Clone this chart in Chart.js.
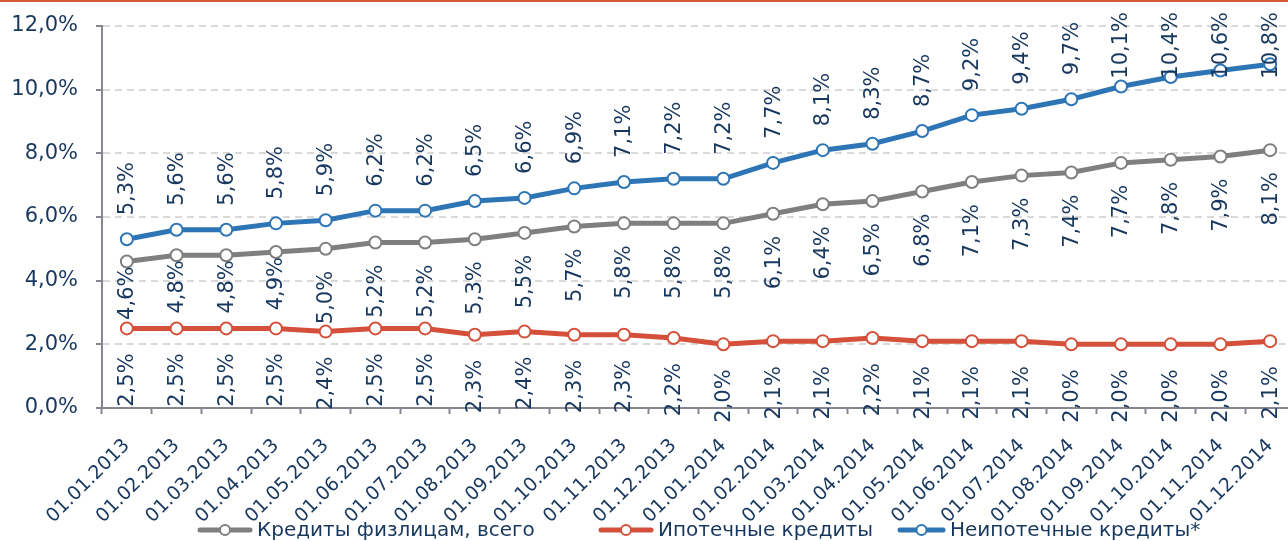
<!DOCTYPE html>
<html>
<head>
<meta charset="utf-8">
<script src="https://cdn.jsdelivr.net/npm/chart.js@4.4.1/dist/chart.umd.min.js"></script>
<style>
  html, body { margin: 0; padding: 0; background: #fff; overflow: hidden; }
  /* чуть шире окна: область графика уходит за правый край, как в оригинале */
  #wrap { position: relative; width: 1303px; height: 541px; border-top: 2px solid #d9573b; box-sizing: border-box; }
  canvas { display: block; }
</style>
</head>
<body>
<div id="wrap"><canvas id="grafik"></canvas></div>
<script>
// Данные (доли просроченной задолженности, %)
const daty = ['01.01.2013', '01.02.2013', '01.03.2013', '01.04.2013', '01.05.2013', '01.06.2013',
  '01.07.2013', '01.08.2013', '01.09.2013', '01.10.2013', '01.11.2013', '01.12.2013',
  '01.01.2014', '01.02.2014', '01.03.2014', '01.04.2014', '01.05.2014', '01.06.2014',
  '01.07.2014', '01.08.2014', '01.09.2014', '01.10.2014', '01.11.2014', '01.12.2014'];
const vsego = [4.6, 4.8, 4.8, 4.9, 5.0, 5.2, 5.2, 5.3, 5.5, 5.7, 5.8, 5.8,
  5.8, 6.1, 6.4, 6.5, 6.8, 7.1, 7.3, 7.4, 7.7, 7.8, 7.9, 8.1];
const ipoteka = [2.5, 2.5, 2.5, 2.5, 2.4, 2.5, 2.5, 2.3, 2.4, 2.3, 2.3, 2.2,
  2.0, 2.1, 2.1, 2.2, 2.1, 2.1, 2.1, 2.0, 2.0, 2.0, 2.0, 2.1];
const neipoteka = [5.3, 5.6, 5.6, 5.8, 5.9, 6.2, 6.2, 6.5, 6.6, 6.9, 7.1, 7.2,
  7.2, 7.7, 8.1, 8.3, 8.7, 9.2, 9.4, 9.7, 10.1, 10.4, 10.6, 10.8];
const nazvaniya = ['Кредиты физлицам, всего', 'Ипотечные кредиты', 'Неипотечные кредиты*'];

const SERYI = '#7f7f7f';
const KRASNYI = '#d4503a';
const SINII = '#2e75b6';
const TEKST = '#17375e';
const OS = '#868690';
const SHRIFT = 'DejaVu Sans';

function pct(v) {
  return v.toFixed(1).replace('.', ',') + '%';
}

// маркер для легенды: линия с кружком
function legendMarker(color, w) {
  const c = document.createElement('canvas');
  c.width = w; c.height = 14;
  const g = c.getContext('2d');
  g.strokeStyle = color;
  g.lineWidth = 5;
  g.lineCap = 'round';
  g.beginPath(); g.moveTo(3, 7); g.lineTo(w - 3, 7); g.stroke();
  g.fillStyle = '#fff';
  g.lineWidth = 2;
  g.beginPath(); g.arc(w / 2, 7, 5, 0, Math.PI * 2); g.fill(); g.stroke();
  return c;
}
const markery = [legendMarker(SERYI, 56), legendMarker(KRASNYI, 56), legendMarker(SINII, 49)];
const legendaX = [197, 598, 897];

// подписи значений, повернутые на 90° + легенда
const podpisi = {
  id: 'podpisi',
  afterDatasetsDraw(chart) {
    const ctx = chart.ctx;
    ctx.save();
    ctx.font = '21px "' + SHRIFT + '"';
    ctx.fillStyle = TEKST;
    ctx.textBaseline = 'middle';
    chart.data.datasets.forEach((ds, i) => {
      const meta = chart.getDatasetMeta(i);
      meta.data.forEach((pt, j) => {
        const txt = pct(ds.data[j]);
        const w = ctx.measureText(txt).width;
        ctx.save();
        if (i === 2) {
          // над точкой, но не выше края
          let y = pt.y - 24;
          if (y - w < 10) y = 10 + w;
          ctx.translate(pt.x + 1, y);
          ctx.rotate(-Math.PI / 2);
          ctx.textAlign = 'left';
        } else {
          let gap = i === 0 ? 22 : 25;
          if (i === 0 && j < 4) gap = 5;
          ctx.translate(pt.x + 1, pt.y + gap);
          ctx.rotate(-Math.PI / 2);
          ctx.textAlign = 'right';
        }
        ctx.fillText(txt, 0, 0);
        ctx.restore();
      });
    });
    ctx.restore();
  },
  afterDraw(chart) {
    const ctx = chart.ctx;
    ctx.save();
    ctx.font = '20px "' + SHRIFT + '"';
    ctx.fillStyle = TEKST;
    ctx.textBaseline = 'middle';
    ctx.textAlign = 'left';
    const y = 528;
    nazvaniya.forEach((name, i) => {
      const m = markery[i];
      ctx.drawImage(m, legendaX[i], y - 7);
      ctx.fillText(name, legendaX[i] + m.width + 4, y + 1);
    });
    ctx.restore();
  }
};

function seriya(label, data, color) {
  return {
    label: label,
    data: data,
    borderColor: color,
    backgroundColor: color,
    borderWidth: 5,
    pointStyle: 'circle',
    pointRadius: 6,
    pointHoverRadius: 6,
    pointBorderWidth: 2,
    pointBorderColor: color,
    pointBackgroundColor: '#fff',
    tension: 0
  };
}

new Chart(document.getElementById('grafik'), {
  type: 'line',
  data: {
    labels: daty,
    datasets: [
      seriya(nazvaniya[0], vsego, SERYI),
      seriya(nazvaniya[1], ipoteka, KRASNYI),
      seriya(nazvaniya[2], neipoteka, SINII)
    ]
  },
  options: {
    responsive: true,
    maintainAspectRatio: false,
    animation: false,
    layout: { padding: { left: 0, top: 24, right: 0, bottom: 18 } },
    plugins: {
      legend: { display: false },
      tooltip: { enabled: false }
    },
    scales: {
      x: {
        offset: true,
        grid: { offset: true, drawOnChartArea: false, tickLength: 6, tickWidth: 2, tickColor: OS },
        border: { color: OS, width: 2 },
        ticks: {
          color: TEKST,
          font: { family: SHRIFT, size: 19, lineHeight: 1 },
          maxRotation: 45,
          minRotation: 45,
          autoSkip: false,
          padding: 22
        },
        afterFit(scale) {
          scale.height = 115;
          scale.paddingLeft = 0;
          scale.paddingRight = 0;
        }
      },
      y: {
        min: 0,
        max: 12,
        grid: { color: '#d9d9d9', lineWidth: 2, tickLength: 6, tickColor: OS, tickWidth: 2 },
        border: { color: OS, width: 2, dash: [7, 5] },
        ticks: {
          stepSize: 2,
          color: TEKST,
          font: { family: SHRIFT, size: 21 },
          padding: 18,
          callback: v => pct(v)
        },
        afterFit(scale) {
          scale.width = 102;
          scale.paddingTop = 0;
          scale.paddingBottom = 0;
        }
      }
    }
  },
  plugins: [podpisi]
});
</script>
</body>
</html>
